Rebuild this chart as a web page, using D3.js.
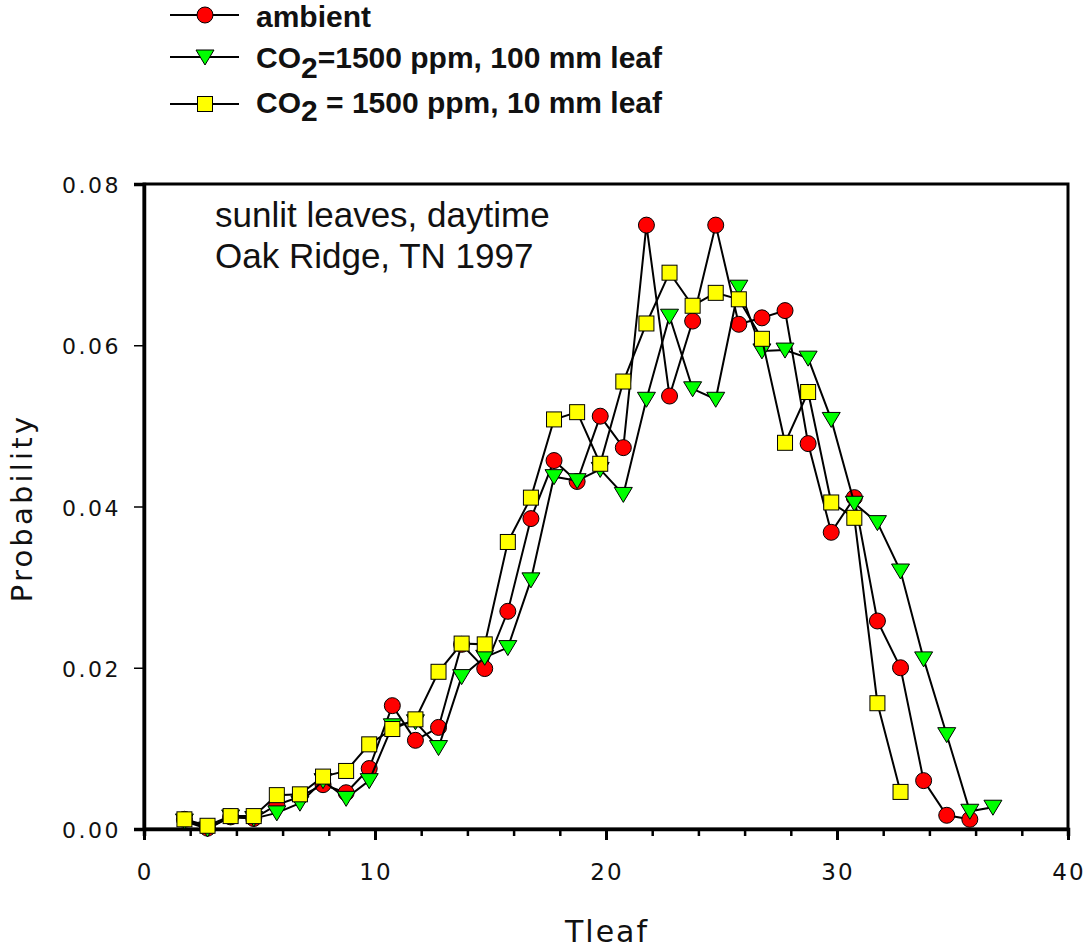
<!DOCTYPE html>
<html>
<head>
<meta charset="utf-8">
<script src="https://cdn.jsdelivr.net/npm/d3@7"></script>
<style>
  body { margin: 0; background: #fff; }
  svg { display: block; }
</style>
</head>
<body>
<svg id="chart" width="1089" height="948"></svg>
<script>
// leaf temperature bins (centres)
var tAmbient = [1.75, 2.75, 3.75, 4.75, 5.75, 6.75, 7.75, 8.75, 9.75, 10.75, 11.75, 12.75, 13.75, 14.75, 15.75, 16.75, 17.75, 18.75, 19.75, 20.75, 21.75, 22.75, 23.75, 24.75, 25.75, 26.75, 27.75, 28.75, 29.75, 30.75, 31.75, 32.75, 33.75, 34.75, 35.75];
var pAmbient = [0.0012, 0.0001, 0.0015, 0.0013, 0.0030, 0.0040, 0.0055, 0.0045, 0.0075, 0.0153, 0.0110, 0.0126, 0.0229, 0.0199, 0.0270, 0.0385, 0.0457, 0.0431, 0.0512, 0.0473, 0.0749, 0.0537, 0.0630, 0.0749, 0.0626, 0.0634, 0.0643, 0.0478, 0.0368, 0.0411, 0.0258, 0.0200, 0.0060, 0.0017, 0.0012];

var t100 = [1.75, 2.75, 3.75, 4.75, 5.75, 6.75, 7.75, 8.75, 9.75, 10.75, 11.75, 12.75, 13.75, 14.75, 15.75, 16.75, 17.75, 18.75, 19.75, 20.75, 21.75, 22.75, 23.75, 24.75, 25.75, 26.75, 27.75, 28.75, 29.75, 30.75, 31.75, 32.75, 33.75, 34.75, 35.75, 36.75];
var p100 = [0.0010, 0.0000, 0.0015, 0.0013, 0.0020, 0.0032, 0.0060, 0.0038, 0.0060, 0.0128, 0.0133, 0.0101, 0.0189, 0.0213, 0.0225, 0.0309, 0.0437, 0.0432, 0.0446, 0.0415, 0.0533, 0.0636, 0.0546, 0.0533, 0.0672, 0.0593, 0.0594, 0.0584, 0.0508, 0.0404, 0.0380, 0.0320, 0.0211, 0.0117, 0.0022, 0.0027];

var t10 = [1.75, 2.75, 3.75, 4.75, 5.75, 6.75, 7.75, 8.75, 9.75, 10.75, 11.75, 12.75, 13.75, 14.75, 15.75, 16.75, 17.75, 18.75, 19.75, 20.75, 21.75, 22.75, 23.75, 24.75, 25.75, 26.75, 27.75, 28.75, 29.75, 30.75, 31.75, 32.75];
var p10 = [0.0012, 0.0004, 0.0016, 0.0016, 0.0042, 0.0043, 0.0065, 0.0072, 0.0105, 0.0124, 0.0136, 0.0195, 0.0230, 0.0229, 0.0356, 0.0411, 0.0508, 0.0517, 0.0453, 0.0555, 0.0627, 0.0690, 0.0649, 0.0665, 0.0657, 0.0608, 0.0479, 0.0542, 0.0405, 0.0386, 0.0156, 0.0046];

var xTicks = [0, 10, 20, 30, 40];
var yTicks = [0, 0.02, 0.04, 0.06, 0.08];

var svg = d3.select("#chart");
var x = d3.scaleLinear().domain([0, 40]).range([144, 1068]);
var y = d3.scaleLinear().domain([0, 0.08]).range([829, 184]);

// frame
svg.append("rect").attr("x", 144).attr("y", 184).attr("width", 924).attr("height", 645)
  .attr("fill", "none").attr("stroke", "#000").attr("stroke-width", 3);

// x axis: minor ticks every 2, labels every 10
var xAxis = svg.append("g").attr("transform", "translate(0,829)");
xAxis.call(d3.axisBottom(x).tickValues(d3.range(0, 41, 2)).tickSize(7).tickFormat(""));
xAxis.call(function(g) {
  g.select(".domain").attr("stroke-width", 3.5);
  g.selectAll(".tick line").attr("stroke-width", 2.5)
    .filter(function(d) { return d % 10 === 0; }).attr("y2", 11).attr("stroke-width", 3);
});
svg.selectAll(".xlab").data(xTicks).enter().append("text")
  .attr("x", function(d) { return x(d) + 1; }).attr("y", 880)
  .attr("text-anchor", "middle").attr("font-family", "DejaVu Sans").attr("font-size", 23)
  .attr("letter-spacing", 2).attr("fill", "#111").text(function(d) { return d; });

// y axis
var yAxis = svg.append("g").attr("transform", "translate(144,0)");
yAxis.call(d3.axisLeft(y).tickValues(yTicks).tickSize(10).tickFormat(""));
yAxis.call(function(g) {
  g.select(".domain").attr("stroke-width", 3.5);
  g.selectAll(".tick line").attr("stroke-width", 1.5);
});
svg.selectAll(".ylab").data(yTicks).enter().append("text")
  .attr("x", 121).attr("y", function(d) { return y(d) + 9; })
  .attr("text-anchor", "end").attr("font-family", "DejaVu Sans").attr("font-size", 22)
  .attr("letter-spacing", 2.5).attr("fill", "#111").text(function(d) { return d.toFixed(2); });

// axis titles
svg.append("text").attr("x", 607).attr("y", 942).attr("text-anchor", "middle")
  .attr("font-family", "DejaVu Sans").attr("font-size", 30).attr("letter-spacing", 2)
  .attr("fill", "#111").text("Tleaf");
svg.append("text").attr("transform", "translate(32,508) rotate(-90)").attr("text-anchor", "middle")
  .attr("font-family", "DejaVu Sans").attr("font-size", 29).attr("letter-spacing", 3.2)
  .attr("fill", "#111").text("Probability");

// annotation
svg.append("text").attr("x", 215).attr("y", 227).attr("font-family", "Liberation Sans, Arial")
  .attr("font-size", 35).attr("fill", "#111").text("sunlit leaves, daytime");
svg.append("text").attr("x", 215).attr("y", 268).attr("font-family", "Liberation Sans, Arial")
  .attr("font-size", 35).attr("fill", "#111").text("Oak Ridge, TN 1997");

var line = d3.line().x(function(d) { return x(d[0]); }).y(function(d) { return y(d[1]); });

function marker(g, type, fill) {
  if (type === "circle") {
    g.append("circle").attr("r", 8).attr("fill", fill).attr("stroke", "#000").attr("stroke-width", 1);
  } else if (type === "tri") {
    g.append("path").attr("d", "M-9,-7L9,-7L0,8Z").attr("fill", fill).attr("stroke", "#000").attr("stroke-width", 1);
  } else {
    g.append("rect").attr("x", -7.5).attr("y", -7.5).attr("width", 15).attr("height", 15)
      .attr("fill", fill).attr("stroke", "#000").attr("stroke-width", 1);
  }
}

var series = [
  { t: tAmbient, p: pAmbient, type: "circle", fill: "#ff0000" },
  { t: t100, p: p100, type: "tri", fill: "#00ff00" },
  { t: t10, p: p10, type: "square", fill: "#ffff00" }
];

series.forEach(function(s) {
  var pts = d3.zip(s.t, s.p);
  svg.append("path").datum(pts).attr("d", line).attr("fill", "none")
    .attr("stroke", "#000").attr("stroke-width", 2);
  svg.append("g").selectAll("g").data(pts).enter().append("g")
    .attr("transform", function(d) { return "translate(" + x(d[0]) + "," + y(d[1]) + ")"; })
    .each(function() { marker(d3.select(this), s.type, s.fill); });
});

// legend
var legendRows = [
  { y: 15, type: "circle", fill: "#ff0000" },
  { y: 57, type: "tri", fill: "#00ff00" },
  { y: 104, type: "square", fill: "#ffff00" }
];
legendRows.forEach(function(r) {
  svg.append("line").attr("x1", 170).attr("x2", 239).attr("y1", r.y).attr("y2", r.y)
    .attr("stroke", "#000").attr("stroke-width", 2);
  var g = svg.append("g").attr("transform", "translate(205," + r.y + ")");
  marker(g, r.type, r.fill);
});

var lt = svg.append("g").attr("font-family", "Liberation Sans, Arial").attr("font-weight", "bold")
  .attr("font-size", 30).attr("fill", "#111");
lt.append("text").attr("x", 256).attr("y", 27).text("ambient");
var t2 = lt.append("text").attr("x", 256).attr("y", 68);
t2.append("tspan").text("CO");
t2.append("tspan").attr("dy", 10).text("2");
t2.append("tspan").attr("dy", -10).text("=1500 ppm, 100 mm leaf");
var t3 = lt.append("text").attr("x", 256).attr("y", 113);
t3.append("tspan").text("CO");
t3.append("tspan").attr("dy", 8).text("2");
t3.append("tspan").attr("dy", -8).text(" = 1500 ppm, 10 mm leaf");
</script>
</body>
</html>
